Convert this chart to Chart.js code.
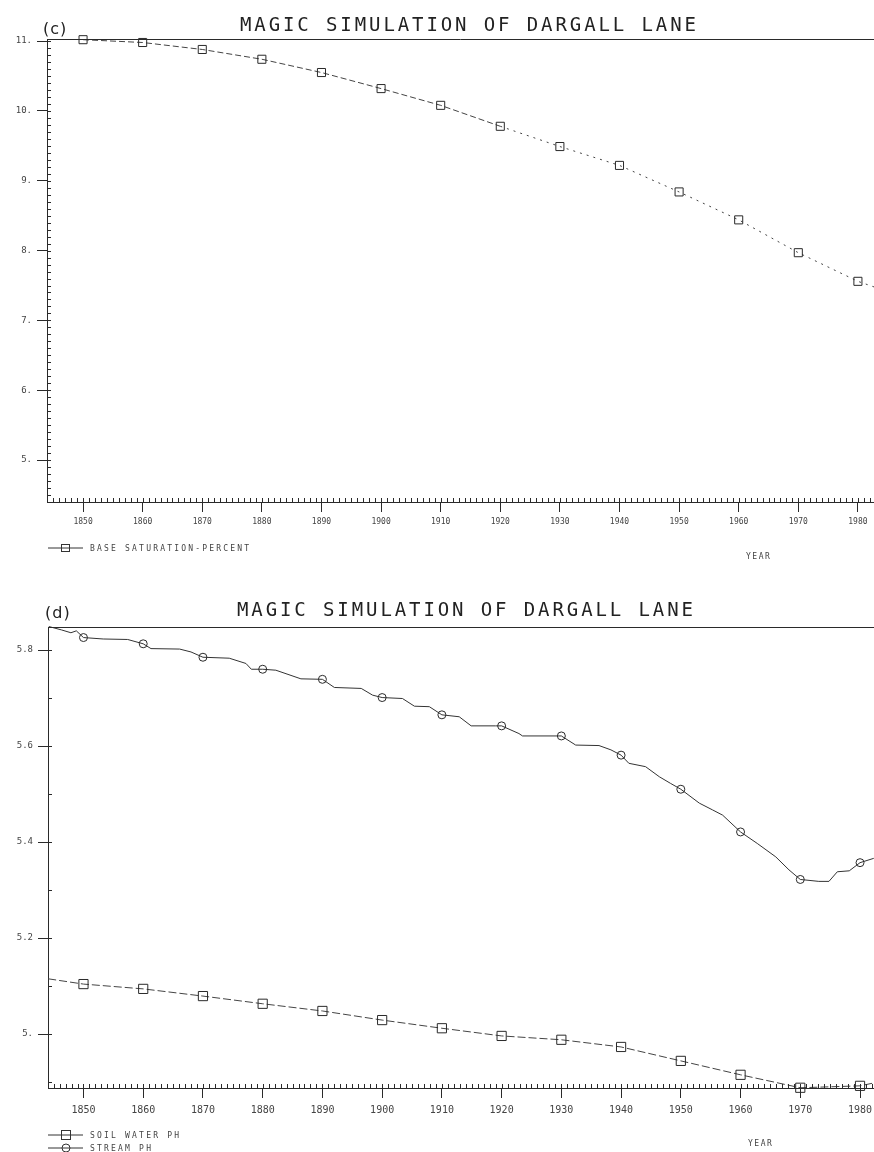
<!DOCTYPE html>
<html>
<head>
<meta charset="utf-8">
<title>MAGIC simulation of Dargall Lane</title>
<script src="https://cdn.jsdelivr.net/npm/chart.js@4.4.0/dist/chart.umd.min.js"></script>
<style>
  html, body { margin: 0; padding: 0; background: #fff; }
  #page { position: relative; width: 874px; height: 1152px; overflow: hidden; }
  canvas { position: absolute; left: 0; }
  .title { position: absolute; font-family: "DejaVu Sans Mono", monospace; font-size: 19px; line-height: 19px; letter-spacing: 2.9px; color: #222; white-space: nowrap; }
  .tag { position: absolute; font-family: "DejaVu Sans", sans-serif; font-size: 16px; line-height: 16px; letter-spacing: 1px; color: #222; }
  .legend { position: absolute; left: 48px; font-family: "DejaVu Sans Mono", monospace; font-size: 8px; line-height: 10px; letter-spacing: 2.2px; color: #444; white-space: nowrap; }
  .legend svg { vertical-align: middle; margin-right: 7px; }
  .xname { position: absolute; font-family: "DejaVu Sans Mono", monospace; font-size: 8px; line-height: 10px; letter-spacing: 1.5px; color: #444; }
</style>
</head>
<body>
<div id="page">
  <canvas id="chartC" width="874" height="580" style="top:0"></canvas>
  <canvas id="chartD" width="874" height="572" style="top:580px"></canvas>

  <div class="tag" style="left:43px; top:21px">(c)</div>
  <div class="title" style="left:240px; top:15px">MAGIC SIMULATION OF DARGALL LANE</div>
  <div class="legend" style="top:543px">
    <svg width="35" height="10"><line x1="0" y1="5" x2="35" y2="5" stroke="#333"/><rect x="13.5" y="1.5" width="8" height="7" fill="none" stroke="#333"/></svg>BASE SATURATION-PERCENT
  </div>
  <div class="xname" style="left:746px; top:552px">YEAR</div>

  <div class="tag" style="left:45px; top:605px">(d)</div>
  <div class="title" style="left:237px; top:600px">MAGIC SIMULATION OF DARGALL LANE</div>
  <div class="legend" style="top:1130px">
    <svg width="35" height="10"><line x1="0" y1="5" x2="35" y2="5" stroke="#333"/><rect x="13.5" y="0.5" width="9" height="9" fill="none" stroke="#333"/></svg>SOIL WATER PH
  </div>
  <div class="legend" style="top:1143px">
    <svg width="35" height="10"><line x1="0" y1="5" x2="35" y2="5" stroke="#333"/><circle cx="18" cy="5" r="4" fill="none" stroke="#333"/></svg>STREAM PH
  </div>
  <div class="xname" style="left:748px; top:1139px">YEAR</div>
</div>

<script>
// Panel (c): base saturation
const baseSatYears = [1850, 1860, 1870, 1880, 1890, 1900, 1910, 1920, 1930, 1940, 1950, 1960, 1970, 1980, 1982.7];
const baseSatPct = [11.02, 10.98, 10.88, 10.74, 10.55, 10.32, 10.08, 9.78, 9.49, 9.22, 8.84, 8.44, 7.97, 7.56, 7.48];
const baseSatTicks = [5, 6, 7, 8, 9, 10, 11];

// Panel (d): soil water and stream pH
const soilYears = [1844.1, 1850, 1860, 1870, 1880, 1890, 1900, 1910, 1920, 1930, 1940, 1950, 1960, 1970, 1980, 1982.3];
const soilPh = [5.115, 5.104, 5.094, 5.079, 5.063, 5.048, 5.029, 5.012, 4.996, 4.988, 4.973, 4.944, 4.915, 4.888, 4.892, 4.898];

const streamYears = [1844.2, 1846.3, 1847.9, 1848.8, 1850, 1853.3, 1857.4, 1860, 1861.3, 1866.1, 1868.0, 1870,
  1874.4, 1877.2, 1878.1, 1880, 1882.2, 1886.4, 1890, 1892.0, 1896.5, 1898.4, 1900, 1903.4, 1905.4, 1907.9,
  1910, 1912.9, 1914.9, 1919.0, 1920, 1922.9, 1923.5, 1930, 1932.4, 1936.3, 1938.3, 1940, 1941.3, 1944.1,
  1946.4, 1948.3, 1950, 1953.1, 1955.3, 1957.0, 1960, 1962.8, 1965.9, 1968.1, 1970, 1973.1, 1974.8, 1976.2,
  1978.2, 1980, 1982.3];
const streamPh = [5.849, 5.842, 5.836, 5.840, 5.826, 5.823, 5.822, 5.813, 5.803, 5.802, 5.796, 5.785,
  5.783, 5.772, 5.760, 5.760, 5.758, 5.740, 5.739, 5.722, 5.720, 5.706, 5.701, 5.699, 5.683, 5.682,
  5.665, 5.661, 5.642, 5.642, 5.642, 5.626, 5.621, 5.621, 5.602, 5.601, 5.592, 5.581, 5.564, 5.557,
  5.536, 5.522, 5.510, 5.481, 5.467, 5.456, 5.421, 5.397, 5.369, 5.342, 5.322, 5.318, 5.318, 5.338,
  5.340, 5.357, 5.366];
const phTicks = [5.0, 5.2, 5.4, 5.6, 5.8];

const yearTicks = [1850, 1860, 1870, 1880, 1890, 1900, 1910, 1920, 1930, 1940, 1950, 1960, 1970, 1980];

const ink = '#2a2a2a';

function toPoints(xs, ys) {
    return xs.map((x, i) => ({ x: x, y: ys[i] }));
}

// markers only on the decade values
function decadeMarker(size) {
    return ctx => (ctx.raw && ctx.raw.x % 10 === 0) ? size : 0;
}

// top frame line plus the small plotter ticks on both axes
const plotterFrame = {
    id: 'plotterFrame',
    afterDraw(chart, args, opts) {
        const { ctx, chartArea } = chart;
        const x = chart.scales.x;
        const y = chart.scales.y;
        ctx.save();
        ctx.strokeStyle = ink;
        ctx.lineWidth = 1;
        ctx.beginPath();
        ctx.moveTo(chartArea.left, Math.round(chartArea.top) + 0.5);
        ctx.lineTo(chartArea.right, Math.round(chartArea.top) + 0.5);
        for (let yr = Math.ceil(x.min); yr <= x.max; yr++) {
            const px = Math.round(x.getPixelForValue(yr)) + 0.5;
            ctx.moveTo(px, chartArea.bottom);
            ctx.lineTo(px, chartArea.bottom - opts.xMinorLen);
        }
        const step = opts.yMinorStep;
        for (let i = Math.ceil(y.min / step); i * step <= y.max; i++) {
            const py = Math.round(y.getPixelForValue(i * step)) + 0.5;
            ctx.moveTo(chartArea.left, py);
            ctx.lineTo(chartArea.left + opts.yMinorLen, py);
        }
        ctx.stroke();
        ctx.restore();
    }
};

function axisX(min, max, fontSize, pad) {
    return {
        type: 'linear',
        min: min,
        max: max,
        afterBuildTicks: s => { s.ticks = yearTicks.map(v => ({ value: v })); },
        afterFit: s => {
            s.height = 30;
            // the plot runs right up to the page edge, no room reserved for labels
            s.paddingLeft = 0;
            s.paddingRight = 0;
        },
        grid: { drawOnChartArea: false, drawTicks: true, tickLength: 10, color: ink },
        border: { color: ink, width: 1 },
        ticks: {
            callback: v => String(v),
            font: { family: 'DejaVu Sans Mono', size: fontSize },
            color: '#444',
            padding: pad,
            maxRotation: 0,
            autoSkip: false
        }
    };
}

function axisY(min, max, tickValues, label, width) {
    return {
        type: 'linear',
        min: min,
        max: max,
        afterBuildTicks: s => { s.ticks = tickValues.map(v => ({ value: v })); },
        afterFit: s => {
            s.width = width;
            s.paddingTop = 0;
            s.paddingBottom = 0;
        },
        grid: { drawOnChartArea: false, drawTicks: true, tickLength: 10, color: ink },
        border: { color: ink, width: 1 },
        ticks: {
            callback: label,
            font: { family: 'DejaVu Sans Mono', size: 9 },
            color: '#444',
            padding: 5,
            autoSkip: false
        }
    };
}

// (c) base saturation
new Chart(document.getElementById('chartC'), {
    type: 'scatter',
    data: {
        datasets: [{
            label: 'BASE SATURATION-PERCENT',
            data: toPoints(baseSatYears, baseSatPct),
            showLine: true,
            clip: false,
            borderColor: '#444',
            borderWidth: 1,
            segment: { borderDash: c => c.p0.parsed.x >= 1920 ? [2, 5] : [6, 3] },
            pointStyle: 'rect',
            pointRadius: decadeMarker(5.7),
            pointBackgroundColor: 'rgba(0,0,0,0)',
            pointBorderColor: ink,
            pointBorderWidth: 1
        }]
    },
    options: {
        responsive: false,
        animation: false,
        layout: { autoPadding: false, padding: { top: 39, right: 0, bottom: 48, left: 0 } },
        plugins: {
            legend: { display: false },
            tooltip: { enabled: false },
            plotterFrame: { xMinorLen: 4, yMinorLen: 4, yMinorStep: 0.1 }
        },
        scales: {
            x: axisX(1843.95, 1982.7, 8, 5),
            y: axisY(4.4, 11.03, baseSatTicks, v => v + '.', 47)
        }
    },
    plugins: [plotterFrame]
});

// (d) soil water and stream pH
new Chart(document.getElementById('chartD'), {
    type: 'scatter',
    data: {
        datasets: [{
            label: 'SOIL WATER PH',
            data: toPoints(soilYears, soilPh),
            showLine: true,
            clip: false,
            borderColor: '#444',
            borderWidth: 1,
            borderDash: [8, 3],
            pointStyle: 'rect',
            pointRadius: decadeMarker(6.5),
            pointBackgroundColor: 'rgba(0,0,0,0)',
            pointBorderColor: ink,
            pointBorderWidth: 1
        }, {
            label: 'STREAM PH',
            data: toPoints(streamYears, streamPh),
            showLine: true,
            clip: false,
            borderColor: '#333',
            borderWidth: 1,
            pointStyle: 'circle',
            pointRadius: decadeMarker(4),
            pointBackgroundColor: 'rgba(0,0,0,0)',
            pointBorderColor: ink,
            pointBorderWidth: 1
        }]
    },
    options: {
        responsive: false,
        animation: false,
        layout: { autoPadding: false, padding: { top: 47, right: 0, bottom: 34, left: 0 } },
        plugins: {
            legend: { display: false },
            tooltip: { enabled: false },
            plotterFrame: { xMinorLen: 4, yMinorLen: 4, yMinorStep: 0.1 }
        },
        scales: {
            x: axisX(1844.06, 1982.34, 10, 6),
            y: axisY(4.8875, 5.848, phTicks, v => v === 5 ? '5.' : v.toFixed(1), 48)
        }
    },
    plugins: [plotterFrame]
});
</script>
</body>
</html>
